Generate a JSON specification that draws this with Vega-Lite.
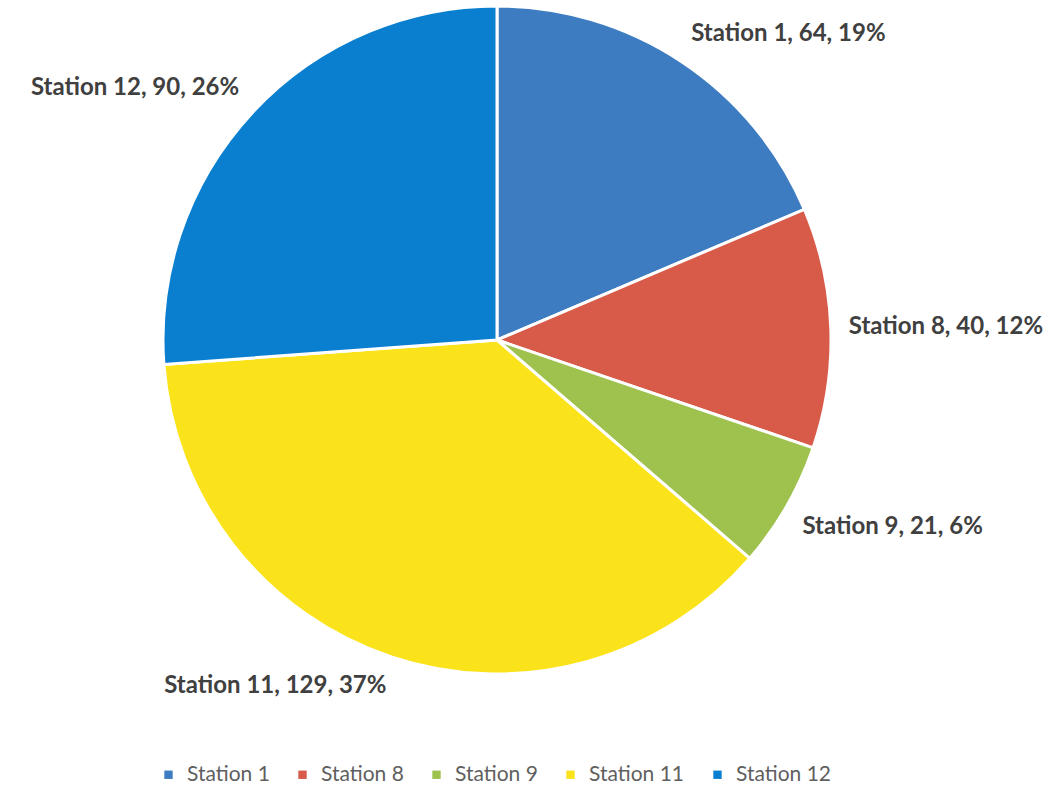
{
  "$schema": "https://vega.github.io/schema/vega-lite/v6.json",
  "width": 994,
  "height": 680,
  "padding": {"left": 0, "top": 0, "right": 0, "bottom": 5},
  "background": "white",
  "data": {
    "values": [
      {"station": "Station 1", "value": 64, "pct": "19%", "i": 1},
      {"station": "Station 8", "value": 40, "pct": "12%", "i": 2},
      {"station": "Station 9", "value": 21, "pct": "6%", "i": 3},
      {"station": "Station 11", "value": 129, "pct": "37%", "i": 4},
      {"station": "Station 12", "value": 90, "pct": "26%", "i": 5}
    ]
  },
  "transform": [
    {"calculate": "datum.station + ', ' + datum.value + ', ' + datum.pct", "as": "label"}
  ],
  "encoding": {
    "theta": {"field": "value", "type": "quantitative", "stack": true},
    "order": {"field": "i", "type": "quantitative"},
    "color": {
      "field": "station",
      "type": "nominal",
      "scale": {
        "domain": ["Station 1", "Station 8", "Station 9", "Station 11", "Station 12"],
        "range": ["#3d7cc0", "#d85a48", "#9ec24d", "#fbe31c", "#0a7fd0"]
      },
      "legend": {
        "title": null,
        "orient": "none",
        "legendX": 158,
        "legendY": 764,
        "direction": "horizontal",
        "symbolType": "square",
        "symbolSize": 70,
        "symbolStrokeWidth": 0,
        "symbolOffset": 0,
        "labelFont": "Lato",
        "labelFontSize": 21,
        "labelColor": "#5f5f5f",
        "labelOffset": 8,
        "columnPadding": 22
      }
    }
  },
  "layer": [
    {
      "mark": {"type": "arc", "outerRadius": 334, "stroke": "white", "strokeWidth": 3}
    },
    {
      "mark": {
        "type": "text",
        "radius": 352,
        "font": "Lato",
        "fontWeight": "bold",
        "fontSize": 24,
        "color": "#404040",
        "align": {"expr": "scale('theta', 0.5*datum.value_start + 0.5*datum.value_end) < PI ? 'left' : 'right'"},
        "baseline": {"expr": "cos(scale('theta', 0.5*datum.value_start + 0.5*datum.value_end)) > 0.3 ? 'bottom' : (cos(scale('theta', 0.5*datum.value_start + 0.5*datum.value_end)) < -0.3 ? 'top' : 'middle')"}
      },
      "encoding": {
        "text": {"field": "label", "type": "nominal"},
        "color": {"value": "#404040"}
      }
    }
  ]
}
